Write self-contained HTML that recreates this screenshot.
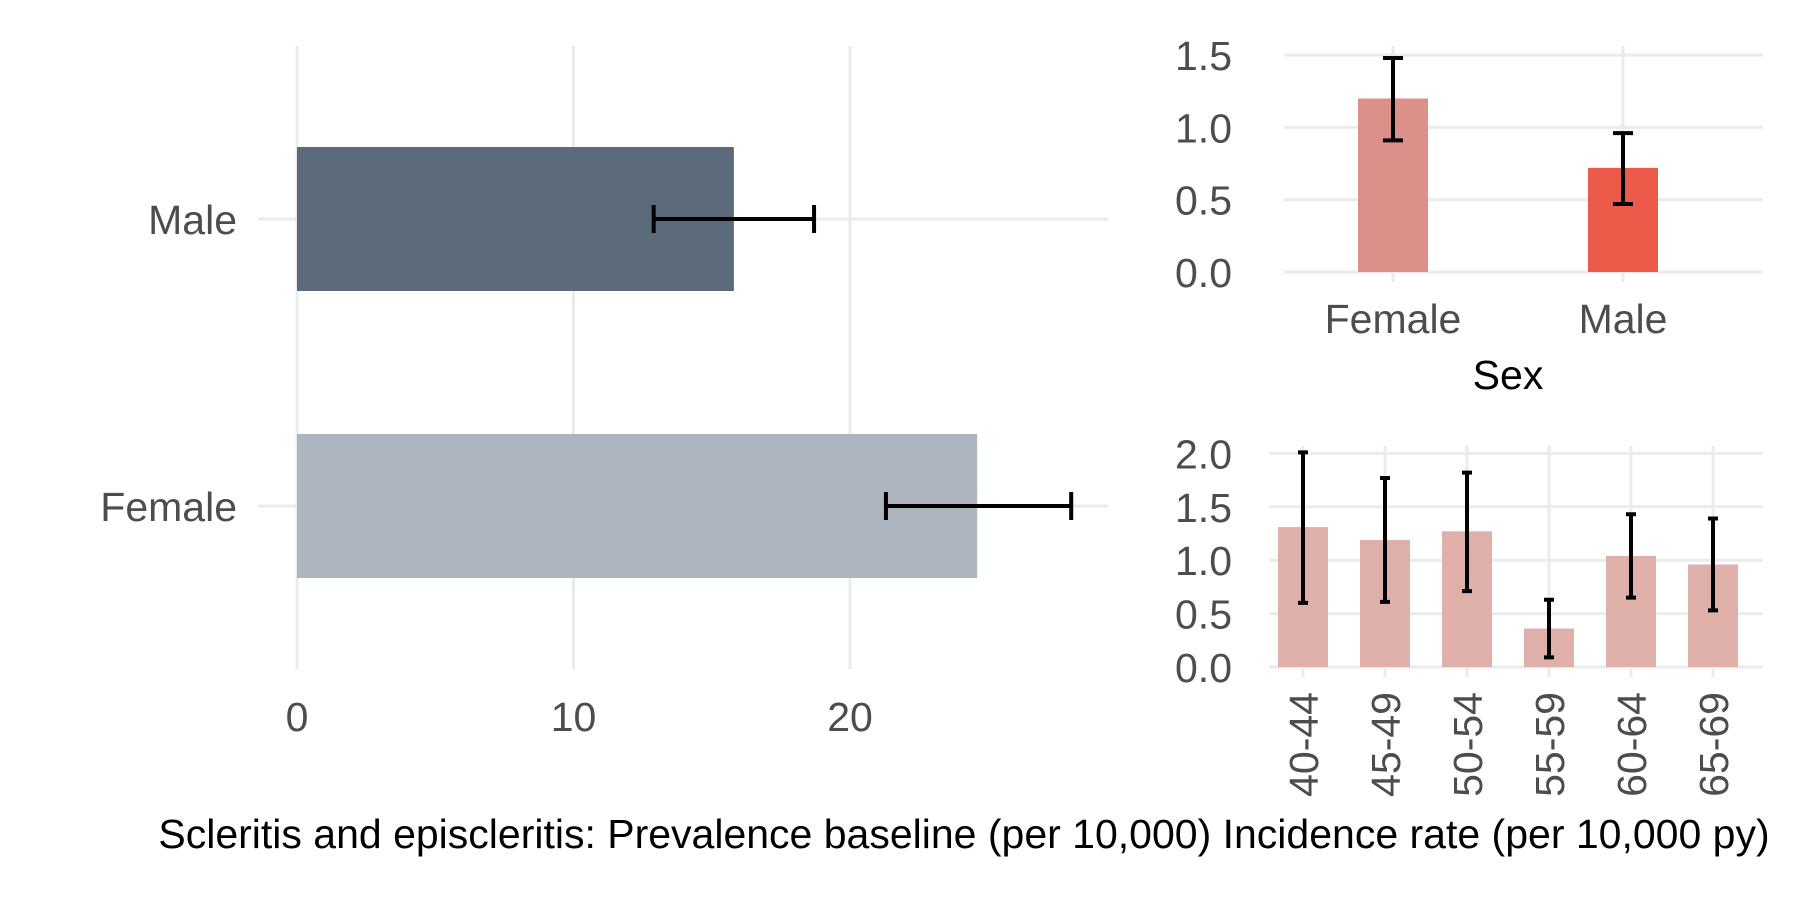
<!DOCTYPE html>
<html><head><meta charset="utf-8"><style>
body{margin:0;background:#fff}
svg text{font-family:"Liberation Sans",sans-serif}
</style></head><body>
<svg id="c" width="1800" height="900" xmlns="http://www.w3.org/2000/svg">
<text x="964" y="848" text-anchor="middle" font-size="41" fill="#000">Scleritis and episcleritis: Prevalence baseline (per 10,000) Incidence rate (per 10,000 py)</text>
</svg>
<script>
const prevCats=["Male","Female"];
const prevVals=[15.8,24.6];
const prevLo=[12.9,21.3];
const prevHi=[18.7,28.0];
const prevTicks=[0,10,20];
const sexCats=["Female","Male"];
const sexVals=[1.2,0.72];
const sexLo=[0.91,0.47];
const sexHi=[1.48,0.96];
const sexTicks=[0,0.5,1.0,1.5];
const ageCats=["40-44","45-49","50-54","55-59","60-64","65-69"];
const ageVals=[1.31,1.19,1.27,0.36,1.04,0.96];
const ageLo=[0.6,0.61,0.71,0.09,0.65,0.53];
const ageHi=[2.01,1.77,1.82,0.63,1.43,1.39];
const ageTicks=[0,0.5,1.0,1.5,2.0];
const svg=document.getElementById('c');
const NS="http://www.w3.org/2000/svg";
function mk(t,a,txt){const e=document.createElementNS(NS,t);for(const k in a)e.setAttribute(k,a[k]);if(txt!==undefined)e.textContent=txt;svg.appendChild(e);return e;}
const G="#ebebeb",T="#4d4d4d",FS=41;
// left
const lx=v=>297+v*27.65;
const ly=[219,506];
prevTicks.forEach(t=>{
 let g=mk('line',{x1:lx(t),x2:lx(t),y1:46,y2:669,stroke:G,'stroke-width':3});
 
 let l=mk('text',{x:lx(t),y:731,'text-anchor':'middle','font-size':FS,fill:T},t);
 
});
prevCats.forEach((c,i)=>{
 let g=mk('line',{x1:258,x2:1108,y1:ly[i],y2:ly[i],stroke:G,'stroke-width':3});
 
 let l=mk('text',{x:237,y:ly[i]+15,'text-anchor':'end','font-size':FS,fill:T},c);
 
});
prevCats.forEach((c,i)=>{
 let b=mk('rect',{x:lx(0),y:ly[i]-72,width:lx(prevVals[i])-lx(0),height:144,fill:i==0?'#5b6b7b':'#adb5be'});
 
 let e=mk('path',{d:`M${lx(prevLo[i])},${ly[i]}H${lx(prevHi[i])}M${lx(prevLo[i])},${ly[i]-14}v28M${lx(prevHi[i])},${ly[i]-14}v28`,stroke:'#000','stroke-width':4,fill:'none'});
 
});
// top right
const sy=v=>272-v*144.6;
const sx=[1393,1623];
sexTicks.forEach(t=>{
 let g=mk('line',{x1:1284,x2:1763,y1:sy(t),y2:sy(t),stroke:G,'stroke-width':3});
 
 let l=mk('text',{x:1232,y:sy(t)+15,'text-anchor':'end','font-size':FS,fill:T},t.toFixed(1));
 
});
sexCats.forEach((c,i)=>{
 let g=mk('line',{x1:sx[i],x2:sx[i],y1:46,y2:282,stroke:G,'stroke-width':3});
 
 let l=mk('text',{x:sx[i],y:333,'text-anchor':'middle','font-size':FS,fill:T},c);
 
 let b=mk('rect',{x:sx[i]-35,y:sy(sexVals[i]),width:70,height:sy(0)-sy(sexVals[i]),fill:i==0?'#dc9089':'#ec5a4a'});
 
 let e=mk('path',{d:`M${sx[i]},${sy(sexLo[i])}V${sy(sexHi[i])}M${sx[i]-10},${sy(sexLo[i])}h20M${sx[i]-10},${sy(sexHi[i])}h20`,stroke:'#000','stroke-width':4,fill:'none'});
 
});
let st=mk('text',{x:1508,y:389,'text-anchor':'middle','font-size':FS,fill:'#000'},'Sex');

// bottom right
const ay=v=>667-v*106.8;
const ax=i=>1303+i*82;
ageTicks.forEach(t=>{
 let g=mk('line',{x1:1269,x2:1763,y1:ay(t),y2:ay(t),stroke:G,'stroke-width':3});
 
 let l=mk('text',{x:1232,y:ay(t)+15,'text-anchor':'end','font-size':FS,fill:T},t.toFixed(1));
 
});
ageCats.forEach((c,i)=>{
 let g=mk('line',{x1:ax(i),x2:ax(i),y1:446,y2:677,stroke:G,'stroke-width':3});
 
 let l=mk('text',{x:0,y:0,'text-anchor':'end','font-size':FS,fill:T,transform:`translate(${ax(i)+15},692) rotate(-90)`},c);
 
 let b=mk('rect',{x:ax(i)-25,y:ay(ageVals[i]),width:50,height:ay(0)-ay(ageVals[i]),fill:'#dfb0aa'});
 
 let e=mk('path',{d:`M${ax(i)},${ay(ageLo[i])}V${ay(ageHi[i])}M${ax(i)-5},${ay(ageLo[i])}h10M${ax(i)-5},${ay(ageHi[i])}h10`,stroke:'#000','stroke-width':4,fill:'none'});
 
});
</script>
</body></html>
